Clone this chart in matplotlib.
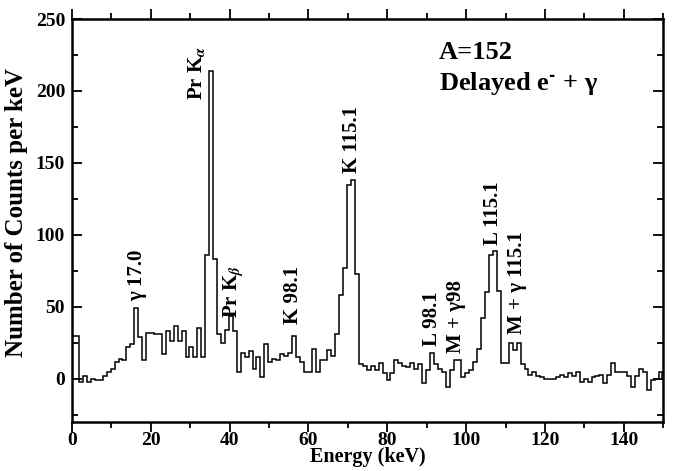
import numpy as np
import matplotlib
matplotlib.use("Agg")
import matplotlib.pyplot as plt
from matplotlib.ticker import MultipleLocator

plt.rcParams['font.family'] = ['Liberation Serif', 'DejaVu Serif']
plt.rcParams['font.weight'] = 'bold'
plt.rcParams['mathtext.fontset'] = 'stix'

# ---- data: counts per 1-keV channel (channel k spans [k-0.2, k+0.8] keV) ----
first_edge = -0.2
bin_width = 1.0
counts = [
    30, 30, -2, 2, -2, 0, -1, -1, 2, 5,          # 0-9
    7, 12, 14, 13, 22, 24, 49, 29, 13, 32,       # 10-19
    32, 31, 31, 17, 33, 26, 37, 26, 33, 15,      # 20-29
    22, 15, 35, 15, 86, 214, 83, 31, 25, 34,     # 30-39
    44, 33, 5, 18, 15, 19, 7, 15, 1, 24,         # 40-49
    12, 14, 13, 17, 16, 18, 30, 15, 12, 5,       # 50-59
    5, 21, 5, 13, 13, 20, 16, 31, 58, 77,        # 60-69
    135, 138, 73, 10, 9, 6, 9, 6, 11, 4,         # 70-79
    -1, 4, 13, 11, 9, 8, 11, 7, 10, -3,          # 80-89
    6, 18, 10, 7, 5, -6, 6, 13, 13, 1,           # 90-99
    4, 6, 12, 21, 42, 60, 86, 89, 61, 11,        # 100-109
    11, 25, 20, 25, 10, 7, 3, 5, 2, 1,           # 110-119
    0, 0, 0, 1, 3, 1, 4, 2, 5, -2,               # 120-129
    0, -2, 1, 2, 3, -3, 3, 11, 5, 5,             # 130-139
    5, 2, -6, 2, 7, 5, -8, -1, 0, 5,             # 140-149
    0,                                           # 150
]

labels = ["\u03b3 17.0", "Pr K$_{\\alpha}$", "Pr K$_{\\beta}$", "K 98.1", "K 115.1",
          "L 98.1", "M + \u03b398", "L 115.1", "M + \u03b3 115.1"]
label_x = [16.4, 31.6, 41.2, 56.1, 71.0, 91.3, 97.4, 106.7, 112.8]
label_y = [54, 194, 42, 38, 143, 23, 18, 93, 31]

xlabel = "Energy (keV)"
ylabel = "Number of Counts per keV"

# ---- figure ----
fig = plt.figure(figsize=(6.83, 4.71), dpi=100)
ax = fig.add_axes([0.1054, 0.1040, 0.8657, 0.8556])

edges = first_edge + bin_width * np.arange(len(counts) + 1)
ax.stairs(counts, edges, baseline=None, color='black', lw=1.1)

ax.set_xlim(0, 150)
ax.set_ylim(-30, 250)

ax.xaxis.set_major_locator(MultipleLocator(20))
ax.xaxis.set_minor_locator(MultipleLocator(10))
ax.yaxis.set_major_locator(MultipleLocator(50))
ax.yaxis.set_minor_locator(MultipleLocator(25))

ax.tick_params(axis='x', which='both', direction='out', top=True, bottom=True,
               width=1.3, labelsize=14, pad=0)
ax.tick_params(axis='x', which='major', length=7)
ax.tick_params(axis='x', which='minor', length=4)
ax.tick_params(axis='y', which='both', direction='in', left=True, right=True,
               width=1.3, labelsize=14, pad=5)
ax.tick_params(axis='y', which='major', length=7)
ax.tick_params(axis='y', which='minor', length=4)
for lab in ax.get_xticklabels() + ax.get_yticklabels():
    lab.set_fontweight('bold')

for sp in ax.spines.values():
    sp.set_linewidth(1.8)

ax.set_xlabel(xlabel, fontsize=14.5, fontweight='bold', labelpad=-1)
ax.set_ylabel(ylabel, fontsize=18, fontweight='bold')
ax.yaxis.set_label_coords(-0.074, 0.52)

for t, x, y in zip(labels, label_x, label_y):
    ax.text(x, y, t, rotation=90, ha='center', va='bottom', fontsize=15,
            fontweight='bold')

ax.text(93.1, 226.5, "A=152", fontsize=19, fontweight='bold', va='center', ha='left')
ax.text(93.1, 205, "Delayed e$^{\\text{-}}$ + \u03b3", fontsize=19, fontweight='bold',
        va='center', ha='left')

fig.savefig("out.png", dpi=100)
